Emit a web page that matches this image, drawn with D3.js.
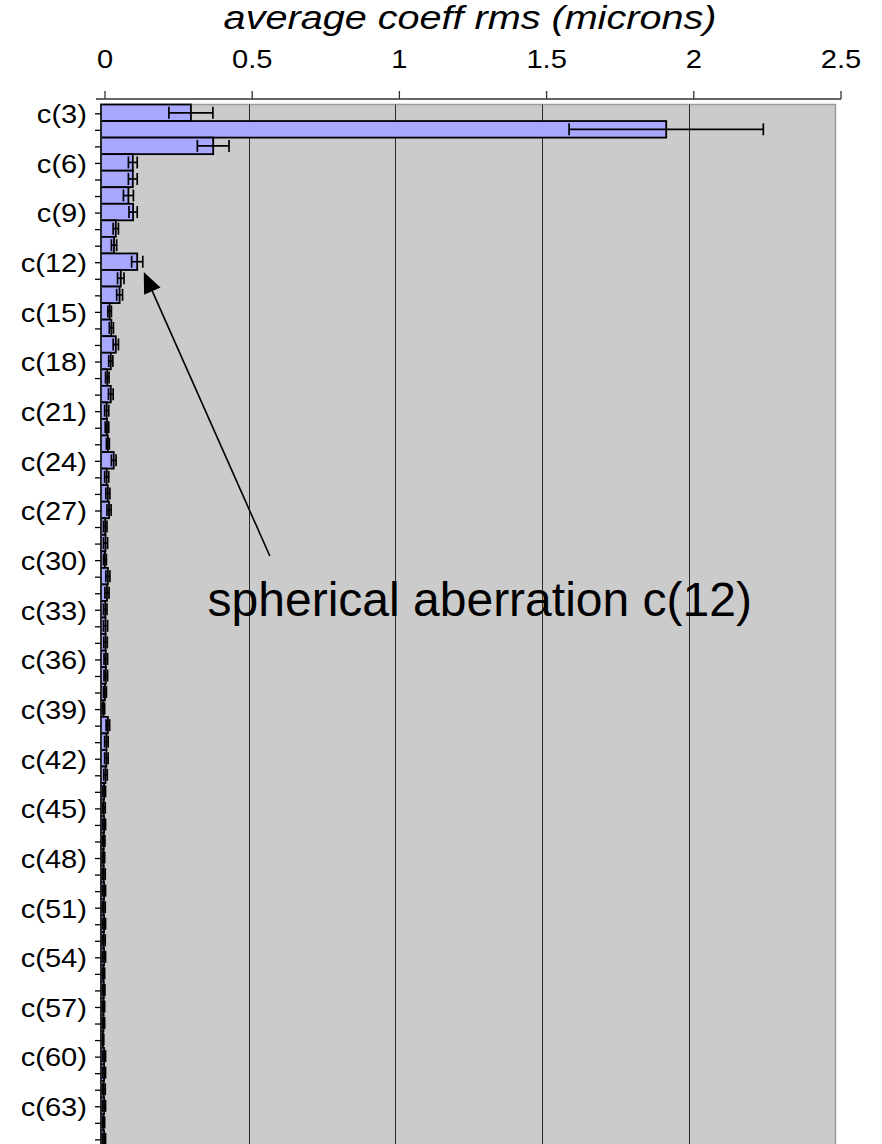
<!DOCTYPE html>
<html>
<head>
<meta charset="utf-8">
<script src="https://cdn.jsdelivr.net/npm/d3@7"></script>
<style>
  html, body { margin: 0; padding: 0; background: #ffffff; }
  svg { display: block; }
  text { font-family: "Liberation Sans", Arial, sans-serif; fill: #000; }
</style>
</head>
<body>
<svg id="chart" width="882" height="1144"></svg>
<script>
// Zernike coefficient labels, c(3) .. c(65)
const categories = [
  "c(3)","c(4)","c(5)","c(6)","c(7)","c(8)","c(9)","c(10)","c(11)","c(12)",
  "c(13)","c(14)","c(15)","c(16)","c(17)","c(18)","c(19)","c(20)","c(21)","c(22)",
  "c(23)","c(24)","c(25)","c(26)","c(27)","c(28)","c(29)","c(30)","c(31)","c(32)",
  "c(33)","c(34)","c(35)","c(36)","c(37)","c(38)","c(39)","c(40)","c(41)","c(42)",
  "c(43)","c(44)","c(45)","c(46)","c(47)","c(48)","c(49)","c(50)","c(51)","c(52)",
  "c(53)","c(54)","c(55)","c(56)","c(57)","c(58)","c(59)","c(60)","c(61)","c(62)",
  "c(63)","c(64)","c(65)"
];

// average rms of each coefficient (microns)
const rmsValues = [
  0.303, 1.923, 0.379, 0.105, 0.105, 0.090, 0.106, 0.047, 0.041, 0.120,
  0.064, 0.060, 0.026, 0.032, 0.047, 0.030, 0.018, 0.030, 0.016, 0.017,
  0.020, 0.040, 0.016, 0.020, 0.024, 0.011, 0.012, 0.010, 0.020, 0.017,
  0.011, 0.012, 0.012, 0.013, 0.013, 0.010, 0.005, 0.020, 0.015, 0.015,
  0.012, 0.007, 0.006, 0.007, 0.006, 0.005, 0.006, 0.007, 0.006, 0.007,
  0.006, 0.007, 0.005, 0.006, 0.005, 0.005, 0.003, 0.007, 0.007, 0.006,
  0.007, 0.005, 0.007
];

// error half-widths (microns)
const rmsErrors = [
  0.075, 0.331, 0.054, 0.015, 0.015, 0.017, 0.014, 0.009, 0.009, 0.019,
  0.011, 0.010, 0.006, 0.007, 0.009, 0.007, 0.006, 0.008, 0.007, 0.006,
  0.005, 0.008, 0.007, 0.007, 0.007, 0.006, 0.007, 0.005, 0.007, 0.007,
  0.006, 0.007, 0.006, 0.006, 0.006, 0.005, 0.004, 0.006, 0.006, 0.006,
  0.006, 0.005, 0.005, 0.005, 0.004, 0.004, 0.005, 0.005, 0.005, 0.005,
  0.005, 0.005, 0.004, 0.004, 0.004, 0.004, 0.003, 0.005, 0.005, 0.005,
  0.005, 0.004, 0.005
];

const tickValues = [0, 0.5, 1, 1.5, 2, 2.5];
const tickLabels = ["0", "0.5", "1", "1.5", "2", "2.5"];
const labelEvery = 3;   // show every third category name

const axisTitle = "average coeff rms (microns)";
const noteText = "spherical aberration c(12)";
const noteTarget = "c(12)";

const svg = d3.select("#chart");

// place a horizontally widened text element
function wideText(sel, tx, ty, k) {
  return sel.attr("transform", (d, i) => `translate(${tx(d, i)},${ty(d, i)}) scale(${k},1)`);
}

// plot area
const plot = { left: 102, right: 835.5, top: 104.5 };
const band = 16.55;
plot.bottom = plot.top + band * categories.length;

const x = d3.scaleLinear().domain([0, 2.5]).range([plot.left, plot.right]);
const xTop = d3.scaleLinear().domain([0, 2.5]).range([105, 841]);
const y = d3.scaleBand().domain(categories).range([plot.top, plot.bottom]).padding(0);

const data = categories.map((c, i) => ({ c, v: rmsValues[i], e: rmsErrors[i] }));

// background
svg.append("rect")
  .attr("x", plot.left - 1).attr("y", plot.top)
  .attr("width", plot.right - plot.left + 1).attr("height", plot.bottom - plot.top)
  .attr("fill", "#cbcbcb")
  .attr("stroke", "#9a9a9a").attr("stroke-width", 1.5);

// vertical gridlines
svg.append("g").selectAll("line")
  .data(tickValues.filter(t => t > 0 && t < 2.5))
  .join("line")
  .attr("x1", d => Math.round(x(d)) + 0.5).attr("x2", d => Math.round(x(d)) + 0.5)
  .attr("y1", plot.top).attr("y2", plot.bottom)
  .attr("stroke", "#2a2a2a").attr("stroke-width", 1);

// bars
svg.append("g").selectAll("rect")
  .data(data)
  .join("rect")
  .attr("x", x(0) - 1)
  .attr("y", d => y(d.c))
  .attr("width", d => x(d.v) - x(0) + 1)
  .attr("height", y.bandwidth())
  .attr("fill", "#a8a8ff")
  .attr("stroke", "#000").attr("stroke-width", 1.8);

// error bars
const capH = 12;
const eb = svg.append("g").attr("stroke", "#000").attr("stroke-width", 1.7).attr("fill", "none");
data.forEach(d => {
  const cy = y(d.c) + y.bandwidth() / 2;
  const x1 = x(Math.max(0, d.v - d.e)), x2 = x(d.v + d.e);
  eb.append("line").attr("x1", x1).attr("x2", x2).attr("y1", cy).attr("y2", cy);
  eb.append("line").attr("x1", x1).attr("x2", x1).attr("y1", cy - capH / 2).attr("y2", cy + capH / 2);
  eb.append("line").attr("x1", x2).attr("x2", x2).attr("y1", cy - capH / 2).attr("y2", cy + capH / 2);
});

// category axis
const yAxis = svg.append("g");
yAxis.append("line")
  .attr("x1", plot.left - 1).attr("x2", plot.left - 1)
  .attr("y1", plot.top).attr("y2", plot.bottom)
  .attr("stroke", "#333").attr("stroke-width", 1.3);
yAxis.selectAll("line.tick")
  .data(categories)
  .join("line")
  .attr("class", "tick")
  .attr("x1", plot.left - 7).attr("x2", plot.left - 1)
  .attr("y1", d => y(d) + y.bandwidth() / 2 + 1)
  .attr("y2", d => y(d) + y.bandwidth() / 2 + 1)
  .attr("stroke", "#000").attr("stroke-width", 1.3);
wideText(
  yAxis.selectAll("text")
    .data(categories.filter((c, i) => i % labelEvery === 0))
    .join("text"),
  () => 87, d => y(d) + y.bandwidth() / 2 + 1, 1.12)
  .attr("dy", "0.36em")
  .attr("text-anchor", "end")
  .attr("font-size", 26)
  .text(d => d);

// value axis along the top
const topY = 99;
const xAxis = svg.append("g");
xAxis.append("line")
  .attr("x1", 96).attr("x2", xTop(2.5))
  .attr("y1", topY).attr("y2", topY)
  .attr("stroke", "#333").attr("stroke-width", 1.3);
xAxis.selectAll("line.tick")
  .data(tickValues)
  .join("line")
  .attr("class", "tick")
  .attr("x1", d => xTop(d)).attr("x2", d => xTop(d))
  .attr("y1", topY - 8).attr("y2", topY)
  .attr("stroke", "#333").attr("stroke-width", 1.3);
wideText(
  xAxis.selectAll("text")
    .data(tickValues)
    .join("text"),
  d => xTop(d), () => 68, 1.12)
  .attr("text-anchor", "middle")
  .attr("font-size", 26)
  .text((d, i) => tickLabels[i]);

wideText(svg.append("text").datum(axisTitle), () => 470, () => 29, 1.2)
  .attr("text-anchor", "middle")
  .attr("font-size", 33)
  .attr("font-style", "italic")
  .text(d => d);

// annotation with arrow pointing at the c(12) bar
const ti = categories.indexOf(noteTarget);
const tip = [x(rmsValues[ti] + rmsErrors[ti]) + 1, y(noteTarget) + y.bandwidth() + 2];
const tail = [x(0.572), 556];
const ang = Math.atan2(tail[1] - tip[1], tail[0] - tip[0]);
const headLen = 21, headHalf = 9;
const bx = tip[0] + headLen * Math.cos(ang), by = tip[1] + headLen * Math.sin(ang);
const nx = -Math.sin(ang), ny = Math.cos(ang);

svg.append("line")
  .attr("x1", tail[0]).attr("y1", tail[1])
  .attr("x2", bx).attr("y2", by)
  .attr("stroke", "#000").attr("stroke-width", 1.6);
svg.append("path")
  .attr("d", d3.line()([
    tip,
    [bx + nx * headHalf, by + ny * headHalf],
    [bx - nx * headHalf, by - ny * headHalf]
  ]) + "Z")
  .attr("fill", "#000");

svg.append("text")
  .attr("x", x(0.36)).attr("y", 616)
  .attr("font-size", 48)
  .text(noteText);
</script>
</body>
</html>
